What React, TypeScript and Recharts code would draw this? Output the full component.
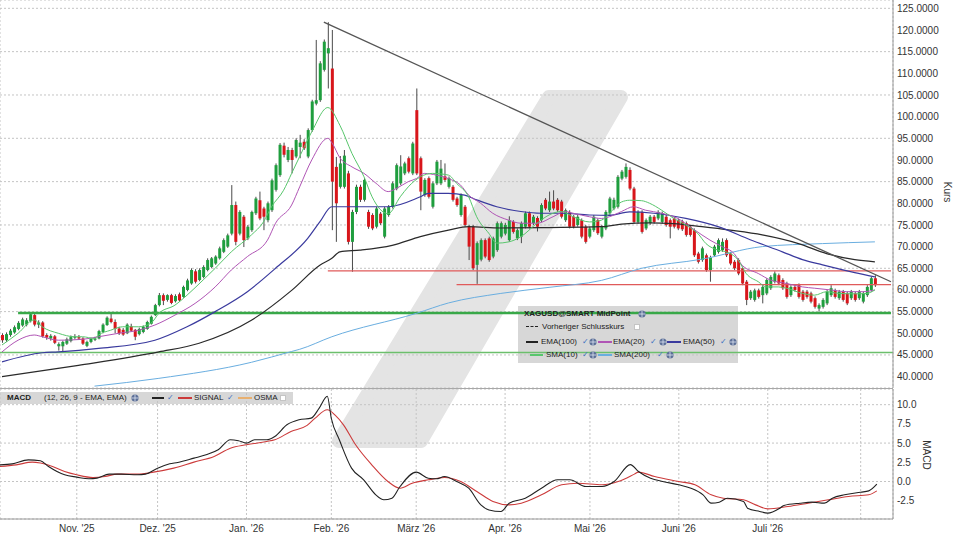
import React from 'react';
import { ComposedChart, Bar, Line, XAxis, YAxis, CartesianGrid, ReferenceLine } from 'recharts';

// ---------- categories / ticks ----------
const monthTicks = [19, 39, 61, 82, 103, 125, 146, 168, 190, 213];
const monthLabels = ["Nov. '25", "Dez. '25", "Jan. '26", "Feb. '26", "März '26", "Apr. '26", "Mai '26", "Juni '26", "Juli '26", ""];
const priceTicks = [40, 45, 50, 55, 60, 65, 70, 75, 80, 85, 90, 95, 100, 105, 110, 115, 120, 125];
const macdTicks = [-2.5, 0, 2.5, 5, 7.5, 10];
const padBars = 4;

// ---------- candles [open, high, low, close] ----------
type C = [number, number, number, number];
const candlesOct: C[] = [
  [49.6,50.0,47.8,48.4],[48.4,50.2,48.0,49.8],[49.6,51.0,49.2,50.6],[50.2,51.8,49.9,51.4],[51.0,52.8,50.7,52.4],
  [51.8,53.6,51.5,53.2],[52.0,53.5,51.6,53.0],[52.8,54.8,52.5,54.4],[54.2,54.6,51.6,52.0],[52.0,53.0,51.2,52.5],
  [52.5,52.8,49.0,49.3],[49.6,50.0,48.5,49.0],[48.8,49.8,48.3,49.4],[49.3,49.6,47.5,47.8],[47.0,47.9,46.0,47.5],
  [47.0,48.3,45.8,48.0],[47.6,49.0,47.3,48.6],[48.2,49.5,47.9,49.1],[49.0,49.8,48.6,49.2],
];
const candlesNov: C[] = [
  [49.1,49.6,48.5,48.8],[48.8,49.1,47.3,47.6],[47.1,48.3,46.8,48.0],[48.0,49.0,47.7,48.7],[48.5,49.2,48.2,48.8],
  [48.8,50.8,48.6,50.5],[50.3,52.3,50.0,52.0],[51.9,53.9,51.7,53.6],[53.4,54.7,52.3,52.6],[52.6,53.2,50.0,51.0],
  [51.1,51.5,49.6,50.0],[50.8,51.2,49.4,49.7],[50.0,52.3,49.8,52.0],[51.6,52.2,50.3,50.6],[50.8,51.0,48.4,49.2],
  [49.8,51.3,49.5,51.0],[50.3,51.8,50.0,51.5],[51.0,52.9,50.8,52.6],[52.2,54.1,52.0,53.8],[54.2,56.8,54.0,56.5],
];
const candlesDec: C[] = [
  [56.5,59.3,56.2,58.8],[58.8,59.2,56.5,57.5],[57.7,59.0,57.3,58.8],[58.8,59.1,56.7,57.0],[57.4,59.0,57.1,58.6],
  [59.0,59.4,57.3,57.6],[58.4,61.0,58.2,60.7],[60.0,62.6,59.7,62.2],[61.5,65.0,61.2,64.6],[64.3,64.8,61.5,61.9],
  [62.3,65.0,62.0,64.6],[63.0,65.7,62.7,65.3],[64.6,67.3,64.3,66.9],[65.3,67.6,65.0,67.3],[66.1,68.0,65.8,67.7],
  [67.3,70.0,67.0,69.6],[68.8,71.9,68.5,71.5],[70.0,73.0,69.7,72.6],[73.0,84.2,72.6,79.6],[79.6,80.4,70.3,71.1],
  [73.0,78.4,72.6,78.0],[76.9,77.3,69.9,71.5],
];
const candlesJan: C[] = [
  [71.9,75.0,71.5,74.6],[73.8,78.3,73.4,78.0],[77.7,81.5,77.3,81.1],[80.7,82.7,76.1,76.5],[78.8,79.2,73.8,76.9],
  [76.1,80.4,75.6,80.0],[78.4,85.7,78.0,85.3],[83.1,89.2,82.7,88.8],[86.5,93.9,86.1,93.5],[93.3,94.0,90.6,91.2],
  [90.0,93.0,89.5,92.3],[92.3,92.8,86.9,90.0],[90.8,95.0,90.4,94.6],[93.0,95.8,90.4,94.0],[94.2,94.8,92.3,92.7],
  [90.8,97.3,90.4,96.9],[96.9,103.9,96.5,103.5],[103.0,117.7,102.6,103.8],[103.8,112.8,103.4,112.3],[110.8,117.8,110.4,117.3],
  [114.6,121.8,106.5,115.8],
];
const candlesFeb: C[] = [
  [111.1,120.0,73.8,85.0],[88.4,90.7,71.1,80.0],[83.8,90.9,83.4,89.2],[83.8,92.3,83.4,91.0],[86.9,87.5,70.5,71.1],
  [71.1,78.5,64.2,78.0],[78.0,84.3,77.5,83.8],[83.8,84.3,80.3,80.8],[80.8,85.8,80.4,85.4],[78.0,78.5,74.1,74.6],
  [77.3,77.7,73.8,74.2],[74.6,79.2,74.2,78.8],[77.6,78.0,75.0,75.4],[72.3,79.2,71.9,78.8],[77.3,79.6,76.9,79.2],
  [79.2,85.0,78.8,84.6],[83.4,89.2,83.0,88.8],[84.6,91.1,84.2,88.5],[86.9,89.6,86.5,89.2],[90.4,90.8,86.9,87.3],
  [86.9,94.2,86.5,93.8],
];
const candlesMar: C[] = [
  [101.5,106.5,86.5,86.9],[90.4,90.8,78.4,82.7],[81.9,85.8,81.5,85.4],[85.8,86.2,81.1,81.5],[79.2,85.0,78.8,84.6],
  [84.6,90.0,84.2,89.6],[84.6,90.0,84.2,88.0],[86.2,89.2,85.0,85.4],[83.8,86.2,83.4,85.8],[83.8,84.2,80.4,80.8],
  [81.1,81.5,79.2,79.6],[77.3,82.3,76.9,81.9],[79.2,79.6,74.6,75.0],[74.6,75.0,66.9,70.0],[74.6,75.0,64.6,65.0],
  [65.8,71.2,61.4,70.8],[67.0,71.9,66.6,71.5],[71.5,71.9,67.3,67.7],[71.9,72.3,66.5,66.9],[67.7,72.3,67.3,71.9],
  [69.2,75.8,68.8,75.4],[72.3,75.8,71.9,75.4],
];
const candlesApr: C[] = [
  [73.0,75.5,72.6,75.0],[71.5,77.0,71.1,76.1],[75.7,76.1,73.0,73.4],[71.9,74.2,71.5,73.8],[72.3,75.8,70.8,75.4],
  [74.6,78.1,74.2,77.7],[77.7,78.1,74.2,74.6],[75.4,77.3,75.0,76.9],[76.6,77.0,73.5,74.6],[76.1,80.0,75.7,79.6],
  [80.8,81.2,78.4,78.8],[78.4,82.7,78.0,80.4],[80.4,83.0,78.4,78.8],[80.8,81.2,78.0,78.4],[80.4,80.8,76.5,76.9],
  [76.1,78.8,75.7,78.4],[78.0,78.4,74.2,74.6],[76.9,77.3,74.2,74.6],[75.0,77.3,74.6,76.9],[76.1,76.5,71.9,72.3],
  [74.6,75.0,70.7,71.1],
];
const candlesMay: C[] = [
  [72.3,74.6,71.9,74.2],[73.8,77.3,73.4,76.9],[76.1,76.5,72.7,73.1],[72.3,75.0,71.9,74.6],[74.2,78.4,73.8,78.0],
  [77.7,81.5,77.3,81.1],[78.8,81.3,78.4,80.8],[79.2,86.5,78.8,86.1],[85.7,87.7,85.3,87.3],[86.1,89.2,85.7,88.4],
  [87.7,88.3,83.0,83.4],[83.4,83.8,75.3,75.7],[75.7,78.4,75.3,78.0],[78.0,78.4,73.0,73.4],[74.2,76.5,73.8,76.1],
  [75.4,77.3,75.0,76.9],[76.9,77.3,75.3,75.7],[76.5,78.4,76.1,78.0],[75.7,78.1,75.3,77.7],[76.9,77.3,74.6,75.0],
  [76.1,76.5,71.9,74.6],[76.5,76.9,74.2,74.6],
];
const candlesJun: C[] = [
  [76.1,76.5,73.8,74.2],[75.8,76.2,73.6,74.0],[75.4,75.8,72.3,72.7],[74.6,75.0,72.3,72.7],[73.8,74.2,67.6,68.0],
  [68.4,68.8,66.1,66.5],[66.9,70.0,66.5,69.6],[68.0,68.4,64.2,64.6],[64.6,67.9,61.9,67.5],[68.0,70.4,67.6,70.0],
  [68.8,71.9,68.4,71.5],[69.2,71.9,68.8,71.1],[71.5,71.9,67.6,68.0],[68.4,68.8,65.7,66.1],[66.5,66.9,64.6,65.0],
  [66.9,67.3,63.4,63.8],[65.0,65.4,61.1,61.5],[61.9,62.3,56.5,57.7],[58.1,60.0,57.7,59.6],[57.7,60.3,57.3,59.9],
  [59.9,60.3,58.0,58.4],[58.8,61.1,56.9,60.7],
];
const candlesJul: C[] = [
  [59.2,62.7,58.8,62.3],[60.4,63.4,60.0,63.0],[61.9,64.3,61.5,63.8],[63.4,63.8,61.1,61.5],[62.3,62.7,60.0,60.4],
  [61.5,61.9,58.0,58.4],[58.8,61.1,58.4,60.7],[60.7,61.2,59.6,60.0],[61.1,61.5,58.0,58.4],[59.6,60.0,57.3,57.7],
  [59.6,60.0,58.0,58.4],[59.2,59.6,56.9,57.3],[58.1,58.5,55.7,56.1],[55.7,56.9,55.0,56.5],[56.1,58.1,55.7,57.7],
  [56.9,60.0,56.5,59.6],[58.8,61.1,58.4,60.4],[59.9,60.3,58.0,58.4],[58.1,60.0,57.7,59.6],[59.6,60.0,57.3,57.7],
  [59.2,59.6,56.5,56.9],[58.1,60.0,57.7,59.6],[59.2,59.6,57.3,57.7],
];
const candlesAug: C[] = [
  [58.1,60.0,57.7,59.6],[57.3,59.6,56.9,59.2],[58.8,61.1,58.4,60.7],[60.0,63.0,59.6,62.7],[62.7,63.4,60.7,61.1],
];

// ---------- indicators [bar index, value] ----------
type P = [number, number];
const sma10Pts: P[] = [[0,47.3],[4,50],[8,53.1],[10,51.5],[14,50],[18,49.2],[20,49.2],[23,48.8],[24,49.6],[27,50.7],[30,51.5],[34,51.5],[37,52.3],[39,54.6],[43,56.5],[46,58.8],[50,62.3],[53,65],[57,68.8],[62,72.7],[65,75.7],[67,79.2],[70,83],[72,86.9],[74,90.8],[77,96.5],[81,102.1],[84,98],[87,91.5],[90,86.1],[92,81.5],[94,78.6],[96,77.6],[99,81.5],[101,83.8],[104,86.1],[107,86.9],[111,86.5],[113,84.6],[116,81.5],[118,76.9],[121,73.1],[123,70.8],[126,71.1],[129,72.3],[133,75.4],[136,77.3],[139,78.1],[142,76.9],[146,75.7],[149,76.1],[151,77.7],[154,80.3],[156,80.7],[159,80.6],[161,80],[164,78.4],[167,76.5],[170,75],[173,73],[175,70.7],[178,69.2],[180,68.8],[183,66.9],[185,63.8],[188,61.9],[190,60.7],[193,60.7],[195,60.4],[199,59.2],[202,58.8],[205,59.6],[208,59.2],[212,59.1],[215,59.2],[217,60]];
const ema20Pts: P[] = [[0,45.7],[4,48.4],[8,49.6],[10,49.2],[14,48.4],[20,48.6],[24,49.2],[29,50],[34,50.7],[38,51.9],[43,54.2],[48,56.9],[53,60.7],[57,64.6],[61,67.7],[66,71.5],[68,75.4],[72,79.6],[74,83.8],[77,90],[81,95],[82,94],[84,90.5],[87,88.4],[90,86.9],[93,84.6],[96,82.7],[98,83.4],[101,85],[103,85.7],[105,86.9],[108,86.5],[111,85.7],[114,84.2],[116,81.9],[119,80],[122,77.7],[126,76.1],[129,75.4],[133,75.4],[137,76.9],[140,78.1],[142,77.7],[146,76.9],[149,76.5],[151,76.9],[154,78.1],[157,79.2],[160,78.4],[164,77.7],[168,76.5],[171,74.6],[174,72.7],[176,71.5],[179,70],[182,68.4],[184,65.7],[188,63.8],[191,62.3],[195,61.5],[199,60.7],[202,60.4],[206,60],[210,59.6],[214,59.6],[217,60]];
const ema50Pts: P[] = [[0,43.4],[10,45.5],[14,45.7],[24,46.5],[38,48.4],[46,51.5],[53,55],[61,59.6],[68,65],[76,71.9],[79,75.7],[82,79.2],[96,79.2],[104,81.5],[106,82.3],[111,82.3],[115,81.9],[118,80.8],[123,79.2],[129,78.1],[134,77.7],[139,77.7],[146,77.3],[151,77.2],[156,78],[162,77.7],[170,76.5],[178,74.6],[186,71.6],[194,68.8],[199,67],[204,65.8],[212,64],[217,63]];
const ema100Pts: P[] = [[0,40],[19,42.6],[39,45.7],[49,47.7],[62,53],[72,59.9],[79,65.7],[82,67.3],[84,68.8],[89,69.2],[97,70.3],[104,72.3],[111,73.8],[116,74.6],[124,74.3],[136,74.4],[149,74.6],[154,75.2],[161,75.5],[167,75.3],[174,74.6],[181,73.8],[189,72.7],[198,70.7],[205,68.4],[212,67],[217,66.5]];
const sma200Pts: P[] = [[23,37.8],[39,39.6],[62,43.3],[72,45.8],[74,46.3],[82,49.2],[103,54.6],[111,57],[124,59.2],[136,60.6],[149,62.2],[159,65],[174,67.1],[189,70],[204,70.7],[217,71.1]];
const macdPts: P[] = [[0,2.17],[3,2.3],[7,2.82],[10,2.7],[12,1.96],[16,0.87],[19,0.57],[22,0.35],[24,0.44],[27,0.96],[30,0.96],[34,0.87],[36,0.96],[39,1.74],[42,2.3],[44,2.48],[48,3.04],[51,3.48],[54,4.13],[57,5.43],[59,5.3],[61,5],[63,5.43],[66,5.43],[68,5.86],[71,7.38],[74,8.03],[77,8.25],[79,9.55],[81,11.1],[82,8.2],[84,5.4],[87,1.74],[90,0.22],[93,-1.73],[95,-2.38],[97,-2.17],[99,-0.65],[103,1.22],[106,0.43],[108,0.35],[110,0.65],[113,0],[116,-0.87],[119,-3.04],[121,-3.7],[124,-3.9],[126,-2.82],[130,-2.17],[134,-0.87],[138,0.22],[141,0.22],[145,-0.65],[149,-0.65],[152,0],[156,2.2],[158,1.3],[161,0.43],[164,0],[168,-0.43],[171,-0.87],[174,-1.73],[176,-2.82],[178,-2.69],[180,-2.17],[184,-2.6],[185,-3.47],[188,-3.9],[190,-4.12],[193,-3.47],[194,-3.12],[198,-2.82],[201,-2.69],[204,-2.82],[206,-2.17],[209,-1.73],[213,-1.39],[215,-1.22],[217,-0.35]];
const signalPts: P[] = [[0,1.96],[4,2.17],[8,2.52],[10,2.4],[13,1.96],[16,1.3],[19,0.87],[23,0.52],[26,0.65],[29,0.96],[34,0.96],[38,1.22],[43,1.74],[48,2.52],[53,3.26],[57,4.34],[61,4.78],[66,5.21],[68,5.43],[72,6.51],[76,7.3],[78,8.25],[81,9.34],[83,8.6],[85,7.38],[88,4.78],[92,2.17],[96,0],[99,-0.87],[102,-0.22],[106,0.22],[110,0.52],[114,0],[118,-1.3],[122,-2.6],[126,-3.04],[129,-2.82],[134,-1.73],[139,-0.43],[143,-0.22],[149,-0.43],[153,0],[157,0.96],[158,1.22],[162,0.65],[168,0],[172,-0.43],[176,-1.73],[179,-2.17],[184,-2.38],[187,-3.04],[190,-3.56],[195,-3.25],[200,-2.82],[205,-2.38],[210,-1.95],[215,-1.73],[217,-1.22]];

// ---------- levels ----------
const greenMajor = 54.7;
const greenMinor = 45.55;
const redUpper = 64.4;
const redLower = 61.25;
const trendStart: P = [80, 121.8];
const trendEnd: P = [221, 61.9];
const greenMajorFrom = 4;
const redUpperFrom = 81;
const redLowerFrom = 113;

// ---------- build table ----------
const candles: C[] = [
  ...candlesOct, ...candlesNov, ...candlesDec, ...candlesJan, ...candlesFeb, ...candlesMar,
  ...candlesApr, ...candlesMay, ...candlesJun, ...candlesJul, ...candlesAug,
];
const lastIdx = candles.length + padBars - 1;
const lookup = (pts: P[]) => {
  const m = new Map<number, number>(pts);
  return (i: number) => (m.has(i) ? (m.get(i) as number) : null);
};
const gSma10 = lookup(sma10Pts), gEma20 = lookup(ema20Pts), gEma50 = lookup(ema50Pts),
  gEma100 = lookup(ema100Pts), gSma200 = lookup(sma200Pts), gMacd = lookup(macdPts), gSig = lookup(signalPts);

const rows = Array.from({ length: candles.length + padBars }, (_, i) => {
  const c = candles[i];
  return {
    i,
    o: c ? c[0] : null,
    h: c ? c[1] : null,
    l: c ? c[2] : null,
    c: c ? c[3] : null,
    range: c ? [c[2], c[1]] : null,
    sma10: gSma10(i), ema20: gEma20(i), ema50: gEma50(i), ema100: gEma100(i), sma200: gSma200(i),
    macd: gMacd(i), signal: gSig(i),
  };
});

const tickLabel = (v: number) => {
  const k = monthTicks.indexOf(v);
  return k >= 0 ? monthLabels[k] : '';
};

const Candle = (props: any) => {
  const { x, y, width, height, payload } = props;
  if (!payload || payload.h == null || y == null || height == null) return null;
  const top = Math.min(y, y + height);
  const hh = Math.abs(height);
  const { o, h, l, c } = payload;
  const ppu = h - l > 0 ? hh / (h - l) : 0;
  const yO = top + (h - o) * ppu;
  const yC = top + (h - c) * ppu;
  const up = c >= o;
  const cx = x + width / 2;
  const bTop = Math.min(yO, yC);
  const bH = Math.max(1, Math.abs(yC - yO));
  return (
    <g>
      <line x1={cx} x2={cx} y1={top} y2={top + hh} stroke="#4a4a4a" strokeWidth={1} />
      <rect x={x} y={bTop} width={width} height={bH} fill={up ? '#1f9e3e' : '#d8161b'} />
    </g>
  );
};

const noDot = () => null;

const FONT = '"Liberation Sans", Arial, sans-serif';
const axisTick = { fontSize: 10, fill: '#333', fontFamily: FONT };

const Globe = ({ x, y }: { x: number; y: number }) => (
  <svg style={{ position: 'absolute', left: x - 4, top: y - 4 }} width={8} height={8}>
    <circle cx={4} cy={4} r={3.6} fill="#5d7098" />
    <path d="M0.6 4h6.8M4 0.6v6.8" stroke="#dfe6f2" strokeWidth={0.8} />
  </svg>
);
const Check = ({ x, y }: { x: number; y: number }) => (
  <span style={{ position: 'absolute', left: x - 3, top: y - 6, fontSize: 8, lineHeight: '12px', color: '#3b70c2', fontFamily: 'DejaVu Sans' }}>✓</span>
);
const Box = ({ x, y }: { x: number; y: number }) => (
  <div style={{ position: 'absolute', left: x - 3, top: y - 3, width: 6, height: 6, background: '#fff', border: '1px solid #c4c4c4', boxSizing: 'border-box' }} />
);
const Swatch = ({ x1, x2, y, color, w = 2, dashed = false }: { x1: number; x2: number; y: number; color: string; w?: number; dashed?: boolean }) => (
  <div style={{ position: 'absolute', left: x1, top: y - w / 2, width: x2 - x1, height: 0, borderTop: `${w}px ${dashed ? 'dashed' : 'solid'} ${color}` }} />
);
const Txt = ({ x, y, children, bold = false }: { x: number; y: number; children: React.ReactNode; bold?: boolean }) => (
  <span style={{ position: 'absolute', left: x, top: y - 6, fontSize: 8, lineHeight: '12px', fontWeight: bold ? 700 : 400, color: '#222', whiteSpace: 'nowrap', fontFamily: FONT }}>{children}</span>
);

export default function App() {
  return (
    <div style={{ position: 'absolute', left: 0, top: 0, width: 960, height: 540, background: '#fff', overflow: 'hidden', fontFamily: FONT }}>
      {/* watermark */}
      <svg style={{ position: 'absolute', left: 0, top: 0 }} width={960} height={540}>
        <polygon points="549,97 621,97 421,441 339,441" fill="#e4e4e4" stroke="#e4e4e4" strokeWidth={14} strokeLinejoin="round" />
      </svg>
      {/* legend boxes (background) */}
      <div style={{ position: 'absolute', left: 518, top: 306, width: 220, height: 57, background: '#d7d7d7' }} />
      <div style={{ position: 'absolute', left: 0, top: 392, width: 293, height: 12, background: '#d7d7d7' }} />

      {/* price panel */}
      <div style={{ position: 'absolute', left: 0, top: 0 }}>
        <ComposedChart width={960} height={388} data={rows} margin={{ top: 0, right: 0, bottom: 0, left: 0 }}>
          <CartesianGrid stroke="#c4c4c4" strokeDasharray="2 2" />
          <XAxis dataKey="i" type="category" ticks={monthTicks} interval={0} height={0} tick={false} axisLine={false} tickLine={false} />
          <YAxis orientation="right" width={67} domain={[37.37, 126.92]} allowDataOverflow ticks={priceTicks}
            tickFormatter={(v: number) => v.toFixed(4)} tick={axisTick} tickLine={false} tickSize={0} tickMargin={4}
            axisLine={{ stroke: '#9a9a9a' }} />
          <ReferenceLine y={greenMinor} stroke="#6cbf6c" strokeWidth={1.5} />
          <ReferenceLine segment={[{ x: greenMajorFrom, y: greenMajor }, { x: lastIdx, y: greenMajor }]} stroke="#38a848" strokeWidth={2.5} />
          <ReferenceLine segment={[{ x: redUpperFrom, y: redUpper }, { x: lastIdx, y: redUpper }]} stroke="#e05a5a" strokeWidth={1.2} />
          <ReferenceLine segment={[{ x: redLowerFrom, y: redLower }, { x: lastIdx, y: redLower }]} stroke="#e05a5a" strokeWidth={1.2} />
          <Bar dataKey="range" barSize={3} shape={<Candle />} isAnimationActive={false} />
          <Line dataKey="sma200" type="monotone" stroke="#6aaee0" strokeWidth={1} dot={noDot} activeDot={false} connectNulls isAnimationActive={false} />
          <Line dataKey="ema100" type="monotone" stroke="#2a2a2a" strokeWidth={1.2} dot={noDot} activeDot={false} connectNulls isAnimationActive={false} />
          <Line dataKey="ema50" type="monotone" stroke="#3a3a9e" strokeWidth={1.2} dot={noDot} activeDot={false} connectNulls isAnimationActive={false} />
          <Line dataKey="ema20" type="monotone" stroke="#b055b5" strokeWidth={1} dot={noDot} activeDot={false} connectNulls isAnimationActive={false} />
          <Line dataKey="sma10" type="monotone" stroke="#58c66c" strokeWidth={1} dot={noDot} activeDot={false} connectNulls isAnimationActive={false} />
          <ReferenceLine segment={[{ x: trendStart[0], y: trendStart[1] }, { x: trendEnd[0], y: trendEnd[1] }]} stroke="#555" strokeWidth={1.3} />
        </ComposedChart>
      </div>
      <div style={{ position: 'absolute', left: 0, top: 388, width: 893, height: 1, background: '#a8a8a8' }} />

      {/* MACD panel */}
      <div style={{ position: 'absolute', left: 0, top: 389 }}>
        <ComposedChart width={960} height={151} data={rows} margin={{ top: 0, right: 0, bottom: 0, left: 0 }}>
          <CartesianGrid stroke="#c4c4c4" strokeDasharray="2 2" />
          <XAxis dataKey="i" type="category" ticks={monthTicks} interval={0} height={21} tickFormatter={tickLabel}
            tick={axisTick} tickLine={false} tickSize={0} tickMargin={6} axisLine={{ stroke: '#9a9a9a' }} />
          <YAxis orientation="right" width={67} domain={[-4.88, 12.04]} allowDataOverflow ticks={macdTicks}
            tickFormatter={(v: number) => v.toFixed(1)} tick={axisTick} tickLine={false} tickSize={0} tickMargin={4}
            axisLine={{ stroke: '#9a9a9a' }} />
          <Line dataKey="signal" type="monotone" stroke="#cc3b3b" strokeWidth={1.1} dot={noDot} activeDot={false} connectNulls isAnimationActive={false} />
          <Line dataKey="macd" type="monotone" stroke="#222" strokeWidth={1.1} dot={noDot} activeDot={false} connectNulls isAnimationActive={false} />
        </ComposedChart>
      </div>

      {/* axis titles */}
      <div style={{ position: 'absolute', left: 947, top: 192, transform: 'translate(-50%,-50%) rotate(90deg)', fontSize: 10, color: '#333' }}>Kurs</div>
      <div style={{ position: 'absolute', left: 926, top: 455, transform: 'translate(-50%,-50%) rotate(90deg)', fontSize: 10, color: '#333' }}>MACD</div>

      {/* price legend */}
      <Txt x={524} y={314} bold>XAGUSD@SMART MidPoint</Txt>
      <Globe x={642} y={314} />
      <Swatch x1={526} x2={538} y={327} color="#222" w={1.5} dashed />
      <Txt x={542} y={327}>Vorheriger Schlusskurs</Txt>
      <Box x={637} y={327} />
      <Swatch x1={526} x2={538} y={341.5} color="#222" />
      <Txt x={541} y={341.5}>EMA(100)</Txt>
      <Check x={585} y={341.5} />
      <Globe x={593} y={341.5} />
      <Swatch x1={598} x2={612} y={341.5} color="#b055b5" />
      <Txt x={613} y={341.5}>EMA(20)</Txt>
      <Check x={653} y={341.5} />
      <Globe x={663} y={341.5} />
      <Swatch x1={667} x2={681} y={341.5} color="#3a3a9e" />
      <Txt x={683} y={341.5}>EMA(50)</Txt>
      <Check x={723} y={341.5} />
      <Globe x={733} y={341.5} />
      <Swatch x1={530} x2={543} y={355} color="#58c66c" />
      <Txt x={546} y={355}>SMA(10)</Txt>
      <Check x={585} y={355} />
      <Globe x={593} y={355} />
      <Swatch x1={598} x2={612} y={355} color="#6aaee0" />
      <Txt x={614} y={355}>SMA(200)</Txt>
      <Check x={660} y={355} />
      <Globe x={670} y={355} />

      {/* MACD legend */}
      <Txt x={7} y={398} bold>MACD</Txt>
      <Txt x={44} y={398}>(12, 26, 9 - EMA, EMA)</Txt>
      <Globe x={135} y={398} />
      <Swatch x1={152} x2={164} y={398} color="#222" />
      <Check x={170} y={398} />
      <Swatch x1={178} x2={192} y={398} color="#cc3b3b" />
      <Txt x={194} y={398}>SIGNAL</Txt>
      <Check x={230} y={398} />
      <Swatch x1={238} x2={252} y={398} color="#e8b070" />
      <Txt x={254} y={398}>OSMA</Txt>
      <Box x={283} y={398} />
    </div>
  );
}
